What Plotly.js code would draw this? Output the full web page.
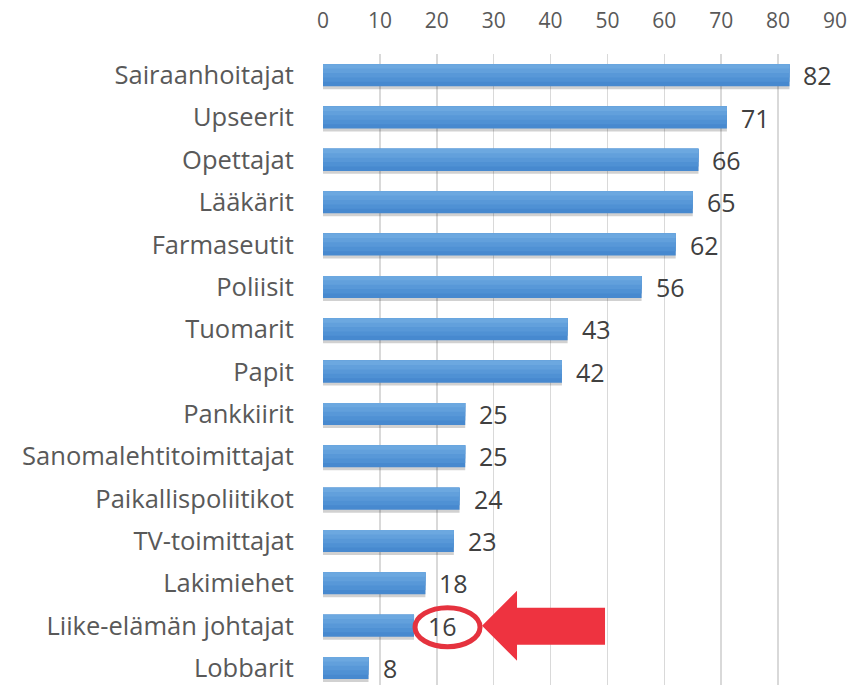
<!DOCTYPE html>
<html>
<head>
<meta charset="utf-8">
<script src="https://cdn.plot.ly/plotly-3.0.1.min.js"></script>
<style>html,body{margin:0;padding:0;background:#fff;}#chart{width:865px;height:685px;}</style>
</head>
<body>
<div id="chart"></div>
<script>
const categories = ["Sairaanhoitajat","Upseerit","Opettajat","Lääkärit","Farmaseutit","Poliisit","Tuomarit","Papit","Pankkiirit","Sanomalehtitoimittajat","Paikallispoliitikot","TV-toimittajat","Lakimiehet","Liike-elämän johtajat","Lobbarit"];
const values = [82,71,66,65,62,56,43,42,25,25,24,23,18,16,8];
const xTicks = [0,10,20,30,40,50,60,70,80,90];
const highlightCategory = "Liike-elämän johtajat";

const hi = categories.indexOf(highlightCategory);
const hiVal = values[hi];

const font = "'Open Sans', 'Noto Sans', sans-serif";

// style: vertical gradient of the bars, drawn as nested bars (darkest full, lighter ones covering the top part)
const gradientColors = ['#4789cf','#4f91d4','#5898d8','#62a0dc','#6ca8e0'];
const barWidth = 0.52;
const barTop = -0.26;

const traces = [];
traces.push({
  type: 'bar', orientation: 'h', y: categories, x: values,
  width: barWidth, offset: barTop + 0.07,
  marker: {color: 'rgba(0,0,0,0.18)', line: {width: 0}},
  hoverinfo: 'skip', showlegend: false
});
const n = gradientColors.length;
const stripe = barWidth / n;
gradientColors.forEach((col, k) => {
  traces.push({
    type: 'bar', orientation: 'h', y: categories, x: values,
    width: stripe * (n - k), offset: barTop,
    marker: {color: col, line: {width: 0}},
    hoverinfo: k === 0 ? 'x+y' : 'skip', showlegend: false
  });
});

const annotations = categories.map((c, i) => ({
  x: values[i], y: c, xref: 'x', yref: 'y',
  text: String(values[i]), showarrow: false,
  xanchor: 'left', xshift: 12, yshift: 0,
  font: {family: font, size: 25, color: '#404040'}
}));

const shapes = [
  {
    type: 'circle', xref: 'x', yref: 'y',
    xsizemode: 'pixel', ysizemode: 'pixel',
    xanchor: hiVal, yanchor: highlightCategory,
    x0: 1, x1: 66, y0: -21, y1: 18,
    line: {color: '#e5323e', width: 5}
  },
  {
    type: 'path', xref: 'x', yref: 'y',
    xsizemode: 'pixel', ysizemode: 'pixel',
    xanchor: hiVal, yanchor: highlightCategory,
    path: 'M 68 0 L 103 35 L 103 18 L 191 18 L 191 -19 L 103 -19 L 103 -35 Z',
    fillcolor: '#ee3340', line: {width: 0}
  }
];

const layout = {
  width: 865, height: 685,
  margin: {l: 323, r: 30, t: 54, b: 0},
  paper_bgcolor: '#ffffff', plot_bgcolor: '#ffffff',
  barmode: 'overlay',
  font: {family: font, color: '#595959'},
  xaxis: {
    side: 'top', range: [0, 90], tickvals: xTicks, ticktext: xTicks.map(String),
    showgrid: true, gridcolor: '#d9d9d9', gridwidth: 1.5,
    zeroline: false, showline: false,
    ticks: 'outside', ticklen: 17, tickcolor: 'rgba(0,0,0,0)',
    tickfont: {family: font, size: 21, color: '#595959'}, fixedrange: true
  },
  yaxis: {
    type: 'category', categoryorder: 'array', categoryarray: categories,
    range: [14.4, -0.5],
    showgrid: false, zeroline: false, showline: false,
    ticks: 'outside', ticklen: 23, tickcolor: 'rgba(0,0,0,0)',
    tickfont: {family: font, size: 25.5, color: '#595959'}, fixedrange: true
  },
  annotations: annotations,
  shapes: shapes
};

Plotly.newPlot('chart', traces, layout, {displayModeBar: false, staticPlot: true});
</script>
</body>
</html>
